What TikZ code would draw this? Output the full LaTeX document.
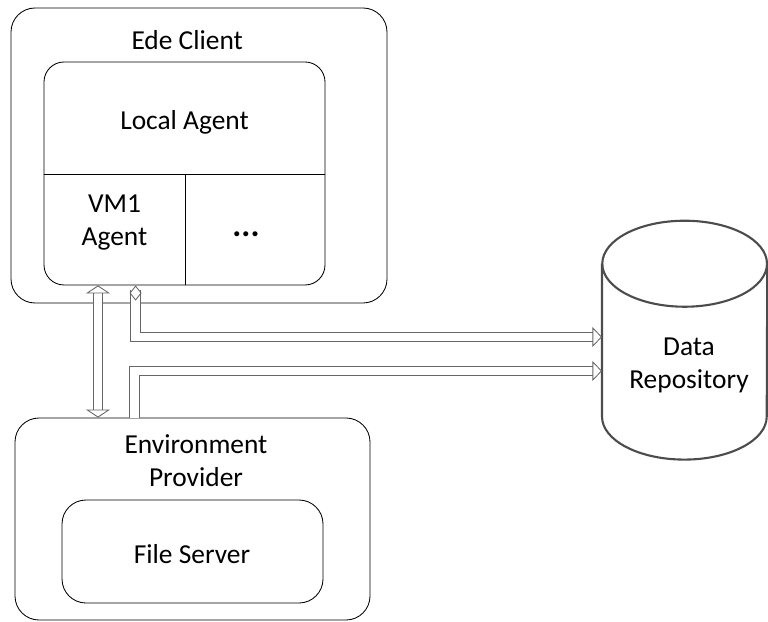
\documentclass[tikz,border=0pt]{standalone}
\usepackage{fontspec}
\setmainfont{Carlito}
\usetikzlibrary{arrows.meta,shapes,positioning}

\begin{document}
\begin{tikzpicture}[
  box/.style={draw, rounded corners=0.6cm, line width=0.6pt},
  lbl/.style={font=\fontsize{19.5}{23.5}\selectfont, align=center},
  pipe/.style={draw=black!60, double, double distance=0.22cm, line width=0.6pt}
]
\useasboundingbox (0,0) rectangle (19.2,15.525);

% Ede client
\node[box, minimum width=9.4cm, minimum height=7.375cm] (A) at (4.975,11.6375) {};
\node[lbl] (A1) at (4.68,14.525) {Ede Client};

\node[box, rounded corners=0.5cm, minimum width=7.025cm, minimum height=5.575cm] (B) at (4.6125,11.1875) {};
\coordinate (d) at (4.625,11.175);
\draw[line width=0.6pt] (B.west |- d) -- (B.east |- d);
\draw[line width=0.6pt] (d) -- (d |- B.south);
\node[lbl] (B1) at (4.6125,12.475) {Local Agent};
\node[lbl] (B2) at (2.8625,9.95) {VM1\\Agent};
\node[lbl, anchor=base, font=\fontsize{24}{24}\selectfont] (B3) at (6.15,9.62) {\textbf{...}};

% environment provider
\node[box, minimum width=8.875cm, minimum height=5.05cm] (C) at (4.8125,2.55) {};
\node[lbl] (C1) at (4.9,4.0) {Environment\\Provider};
\node[box, minimum width=6.525cm, minimum height=2.575cm] (D) at (4.8125,1.7375) {};
\node[lbl] (D1) at (4.8,1.675) {File Server};

% repository
\node[minimum width=4.1175cm, minimum height=5.9575cm] (E) at (17.116,7.021) {};
\draw[draw=black!70, line width=1.5pt] ([yshift=-1.075cm]E.north west) -- ([yshift=1.075cm]E.south west)
  arc[start angle=180, end angle=360, x radius=2.0588cm, y radius=1.075cm] -- ([yshift=-1.075cm]E.north east);
\draw[draw=black!70, line width=1.5pt] ([yshift=-1.075cm]E.north) ellipse [x radius=2.0588cm, y radius=1.075cm];
\node[lbl] (E1) at (17.225,6.4) {Data\\Repository};

% connectors
\draw[pipe, {Triangle[open,width=0.6cm,length=0.2cm]}-{Triangle[open,width=0.6cm,length=0.2cm]}] (B.south -| 2.45,0) -- (C.north -| 2.45,0);
\draw[pipe, {Diamond[open,width=0.3cm,length=0.38cm]}-{Triangle[open,width=0.5cm,length=0.24cm]}] (B.south -| 3.39,0) |- (E.west |- 0,7.1);
\draw[pipe, -{Triangle[open,width=0.5cm,length=0.24cm]}] (C.north -| 3.36,0) |- (E.west |- 0,6.25);
\end{tikzpicture}
\end{document}
